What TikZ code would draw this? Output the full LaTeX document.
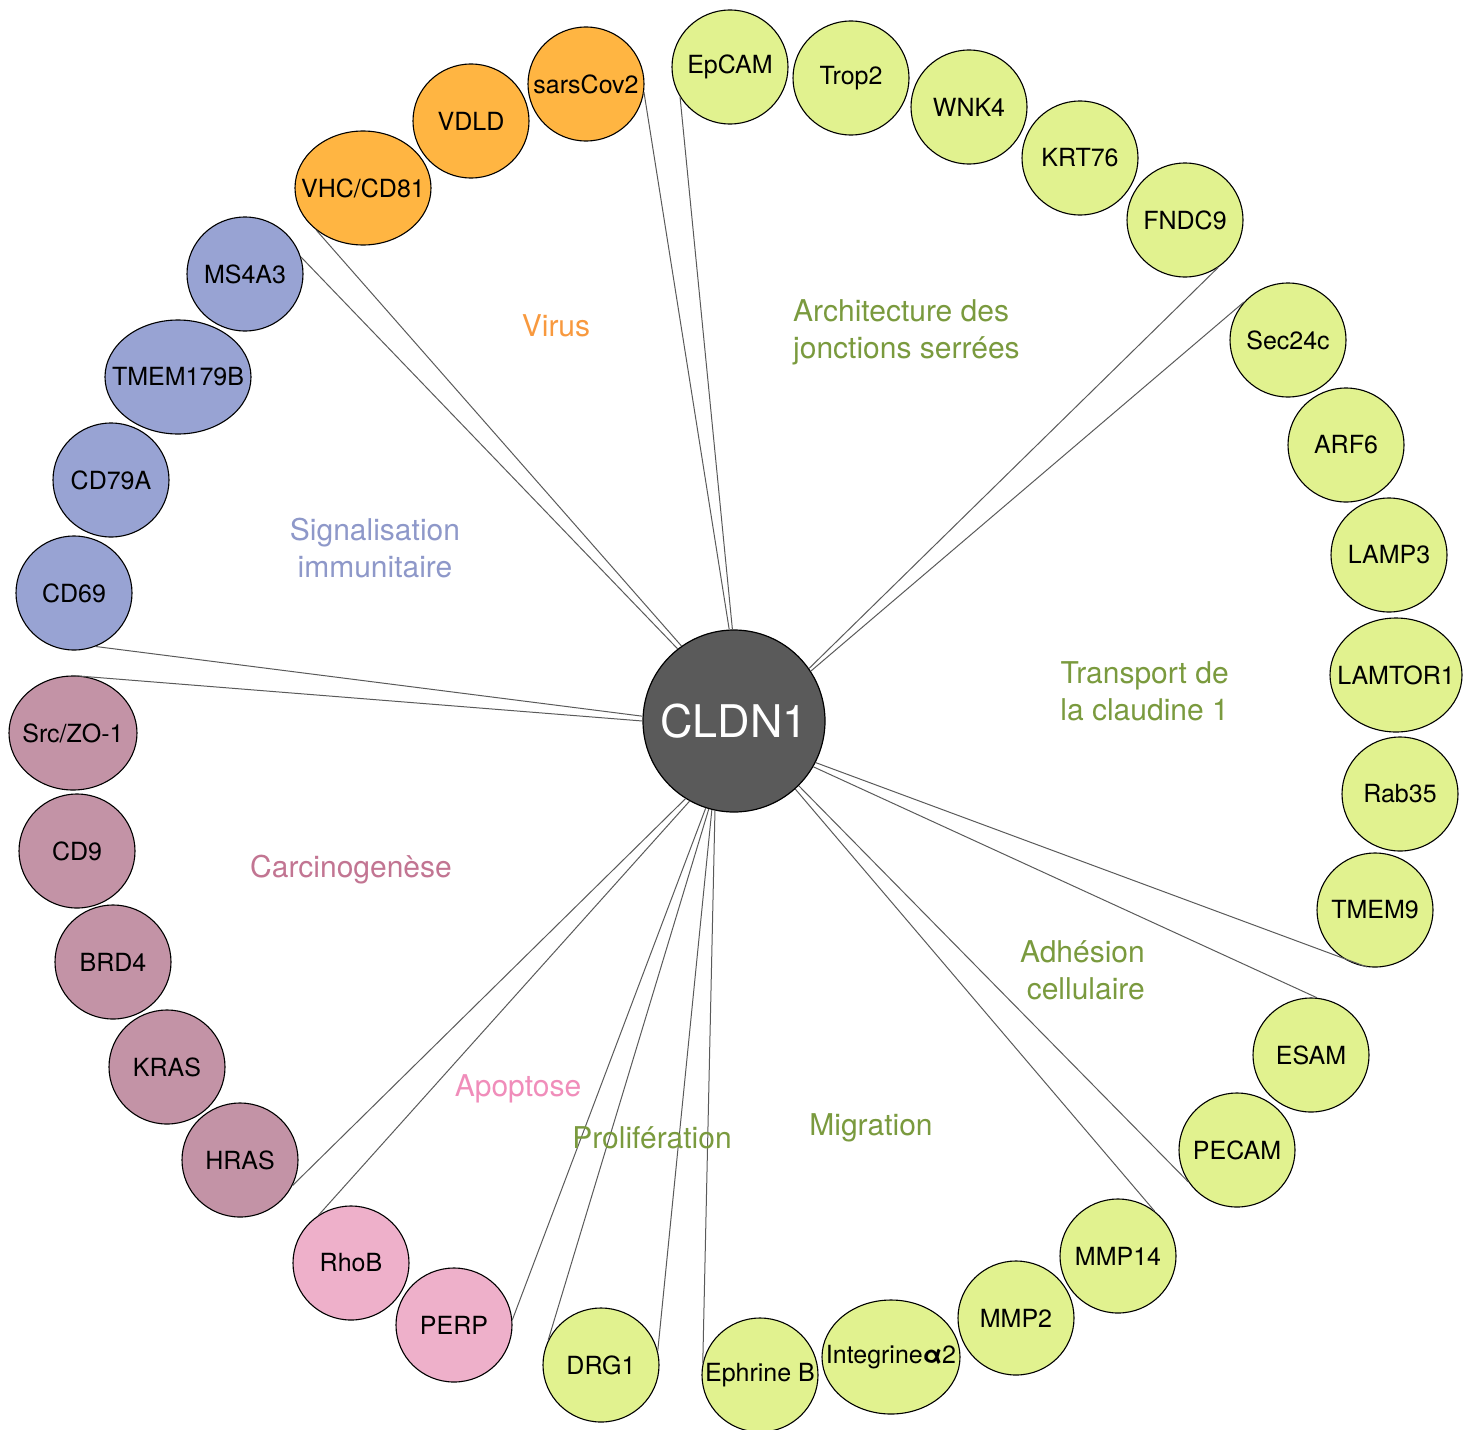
\documentclass[tikz,border=0pt]{standalone}
\usepackage{fontspec}
\setmainfont{TeX Gyre Heros}
\usetikzlibrary{shapes.geometric}
\definecolor{cOrange}{HTML}{FFB542}
\definecolor{cGreen}{HTML}{E1F28F}
\definecolor{cBlue}{HTML}{98A3D3}
\definecolor{cMauve}{HTML}{C393A6}
\definecolor{cPink}{HTML}{EEB0CA}
\definecolor{cCore}{HTML}{5A5A5A}
\definecolor{tOrange}{HTML}{F8993E}
\definecolor{tGreen}{HTML}{7A9A3E}
\definecolor{tBlue}{HTML}{8E98C9}
\definecolor{tMauve}{HTML}{C27592}
\definecolor{tPink}{HTML}{F08DBA}
\definecolor{cLine}{HTML}{5A5A5A}
\newcommand{\zb}[1]{\makebox[0pt]{#1}}
\tikzset{
  gnode/.style={ellipse, draw=black, line width=1.1pt, inner sep=0pt,
    minimum width=116pt, minimum height=114pt,
    font=\fontsize{25}{30}\selectfont, text=black},
  wide/.style={minimum width=#1},
  grouplabel/.style={font=\fontsize{30}{37}\selectfont, inner sep=0pt},
  conn/.style={draw=cLine, line width=1pt}
}
\begin{document}
\begin{tikzpicture}[x=1pt, y=-1pt]
\useasboundingbox (0,0) rectangle (1463,1429);
% central node
\node[circle, draw=black, line width=1.2pt, fill=cCore, minimum size=182pt, inner sep=0pt,
  text=white, font=\fontsize{45}{52}\selectfont] (cldn) at (734,721) {\zb{CLDN1}};
% virus
\node[gnode, fill=cOrange] (sars) at (586,84) {\zb{sarsCov2}};
\node[gnode, fill=cOrange] (vdld) at (471,121) {\zb{VDLD}};
\node[gnode, fill=cOrange, wide=136pt] (vhc) at (363,188) {\zb{VHC/CD81}};
% immune signalling
\node[gnode, fill=cBlue] (ms4a3) at (245,274) {\zb{MS4A3}};
\node[gnode, fill=cBlue, wide=146pt] (tmem179b) at (178,377) {\zb{TMEM179B}};
\node[gnode, fill=cBlue] (cd79a) at (111,480) {\zb{CD79A}};
\node[gnode, fill=cBlue] (cd69) at (74,593) {\zb{CD69}};
% carcinogenesis
\node[gnode, fill=cMauve, wide=128pt] (src) at (73,733) {\zb{Src/ZO-1}};
\node[gnode, fill=cMauve] (cd9) at (77,851) {\zb{CD9}};
\node[gnode, fill=cMauve] (brd4) at (113,962) {\zb{BRD4}};
\node[gnode, fill=cMauve] (kras) at (167,1067) {\zb{KRAS}};
\node[gnode, fill=cMauve] (hras) at (240,1160) {\zb{HRAS}};
% apoptosis
\node[gnode, fill=cPink] (rhob) at (351,1263) {\zb{RhoB}};
\node[gnode, fill=cPink] (perp) at (454,1325) {\zb{PERP}};
% green groups
\node[gnode, fill=cGreen] (drg1) at (601,1365) {\zb{DRG1}};
\node[gnode, fill=cGreen] (ephrine) at (760,1375) {\zb{Ephrine B}};
\node[gnode, fill=cGreen, wide=138pt] (integrine) at (891,1357) {\zb{Integrine{\bfseries α}2}};
\node[gnode, fill=cGreen] (mmp2) at (1016,1318) {\zb{MMP2}};
\node[gnode, fill=cGreen] (mmp14) at (1118,1256) {\zb{MMP14}};
\node[gnode, fill=cGreen] (pecam) at (1237,1150) {\zb{PECAM}};
\node[gnode, fill=cGreen] (esam) at (1311,1055) {\zb{ESAM}};
\node[gnode, fill=cGreen] (tmem9) at (1375,910) {\zb{TMEM9}};
\node[gnode, fill=cGreen] (rab35) at (1400,794) {\zb{Rab35}};
\node[gnode, fill=cGreen, wide=132pt] (lamtor1) at (1396,675) {\zb{LAMTOR1}};
\node[gnode, fill=cGreen] (lamp3) at (1389,555) {\zb{LAMP3}};
\node[gnode, fill=cGreen] (arf6) at (1346,445) {\zb{ARF6}};
\node[gnode, fill=cGreen] (sec24c) at (1288,340) {\zb{Sec24c}};
\node[gnode, fill=cGreen] (fndc9) at (1185,220) {\zb{FNDC9}};
\node[gnode, fill=cGreen] (krt76) at (1080,158) {\zb{KRT76}};
\node[gnode, fill=cGreen] (wnk4) at (969,107) {\zb{WNK4}};
\node[gnode, fill=cGreen] (trop2) at (851,78) {\zb{Trop2}};
\node[gnode, fill=cGreen] (epcam) at (730,67) {\zb{EpCAM}};
% connectors
\draw[conn] (cldn.128) -- (ms4a3.17);
\draw[conn] (cldn.125) -- (vhc.222);
\draw[conn] (cldn.93) -- (sars.352);
\draw[conn] (cldn.91) -- (epcam.211);
\draw[conn] (cldn.35) -- (fndc9.305);
\draw[conn] (cldn.33) -- (sec24c.139);
\draw[conn] (cldn.333) -- (tmem9.262);
\draw[conn] (cldn.330) -- (esam.84);
\draw[conn] (cldn.315) -- (pecam.213);
\draw[conn] (cldn.312) -- (mmp14.51);
\draw[conn] (cldn.258) -- (ephrine.168);
\draw[conn] (cldn.256) -- (drg1.14);
\draw[conn] (cldn.254) -- (drg1.155);
\draw[conn] (cldn.252) -- (perp.5);
\draw[conn] (cldn.241) -- (rhob.124);
\draw[conn] (cldn.238) -- (hras.334);
\draw[conn] (cldn.180) -- (src.91);
\draw[conn] (cldn.177) -- (cd69.292);
% group labels
\node[grouplabel, text=tOrange] (lvirus) at (556,326) {Virus};
\node[grouplabel, text=tGreen, align=left, anchor=west] (larch) at (793,332) {Architecture des\\jonctions serrées};
\node[grouplabel, text=tBlue, align=center] (lsig) at (375,548) {Signalisation\\immunitaire};
\node[grouplabel, text=tGreen, align=right, anchor=east] (ltrans) at (1229,691) {Transport de\\la claudine 1};
\node[grouplabel, text=tMauve] (lcarc) at (351,870) {Carcinogenèse};
\node[grouplabel, text=tGreen, align=right, anchor=east] (ladh) at (1145,970) {Adhésion\\cellulaire};
\node[grouplabel, text=tPink] (lapo) at (518,1089) {Apoptose};
\node[grouplabel, text=tGreen] (lprol) at (652,1138) {Prolifération};
\node[grouplabel, text=tGreen] (lmig) at (871,1128) {Migration};
\end{tikzpicture}
\end{document}
